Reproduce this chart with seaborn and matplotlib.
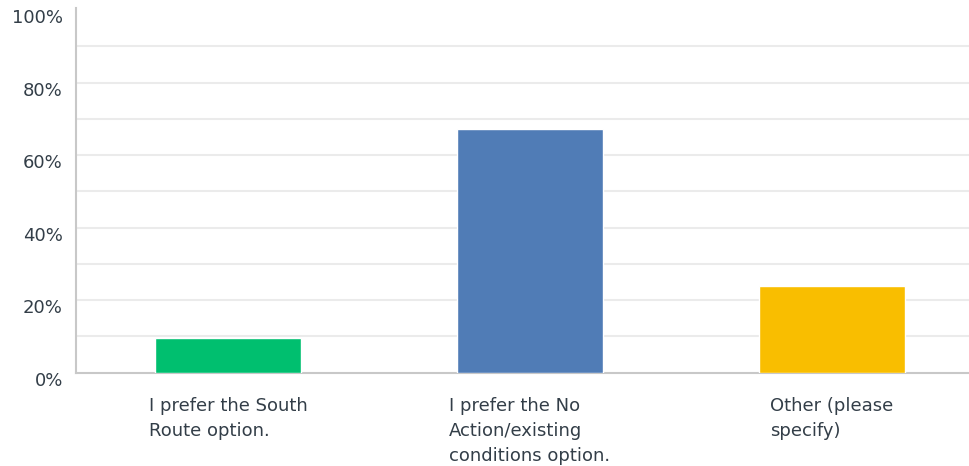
import matplotlib
matplotlib.use("Agg")
import matplotlib.pyplot as plt
import matplotlib.transforms as mtransforms
import seaborn as sns
import pandas as pd

categories = ["I prefer the South\nRoute option.",
              "I prefer the No\nAction/existing\nconditions option.",
              "Other (please\nspecify)"]
values = [9.6, 67.2, 24.0]
colors = ["#00bf6f", "#507cb6", "#f9be00"]
yticks = [0, 20, 40, 60, 80, 100]
ytick_labels = ["0%", "20%", "40%", "60%", "80%", "100%"]

sns.set_style("white")
plt.rcParams['font.family'] = ['DejaVu Sans']

W, H = 969, 466
fig = plt.figure(figsize=(W / 100, H / 100), dpi=100)
left, right, top, bottom = 76, 969, 8, 372.7
ax = fig.add_axes([left / W, 1 - bottom / H, (right - left) / W, (bottom - top) / H])

df = pd.DataFrame({"cat": categories, "val": values})
sns.barplot(data=df, x="cat", y="val", hue="cat", palette=colors, legend=False,
            width=0.483, saturation=1, ax=ax, zorder=3)

ymax = (bottom - top) / 36.27 * 10
ax.set_ylim(0, ymax)
ax.set_xlim(-0.503, 2.454)

for g in range(10, 100, 10):
    ax.axhline(g, color="#ebebeb", lw=1.5, zorder=1)

for s in ["top", "right"]:
    ax.spines[s].set_visible(False)
ax.spines["left"].set_color("#c8c8c8")
ax.spines["bottom"].set_color("#c8c8c8")
ax.spines["left"].set_linewidth(1.5)
ax.spines["bottom"].set_linewidth(1.5)

txt = "#333e48"
ax.set_yticks(yticks)
ax.set_yticklabels([])
ax.tick_params(axis="y", length=0)
trans = ax.get_yaxis_transform() + mtransforms.ScaledTranslation(
    -13 / 100, -8 / 100, fig.dpi_scale_trans)
for v, lab in zip(yticks, ytick_labels):
    ax.text(0, v, lab, transform=trans, ha="right", va="center",
            fontsize=13, color=txt)

ax.tick_params(axis="x", length=0, pad=17.5)
ax.set_xticks(range(len(categories)))
ax.set_xticklabels(categories, fontsize=13, color=txt, ha="center",
                   multialignment="left", linespacing=1.5)
ax.set_xlabel("")
ax.set_ylabel("")

fig.savefig("out.png", dpi=100)
